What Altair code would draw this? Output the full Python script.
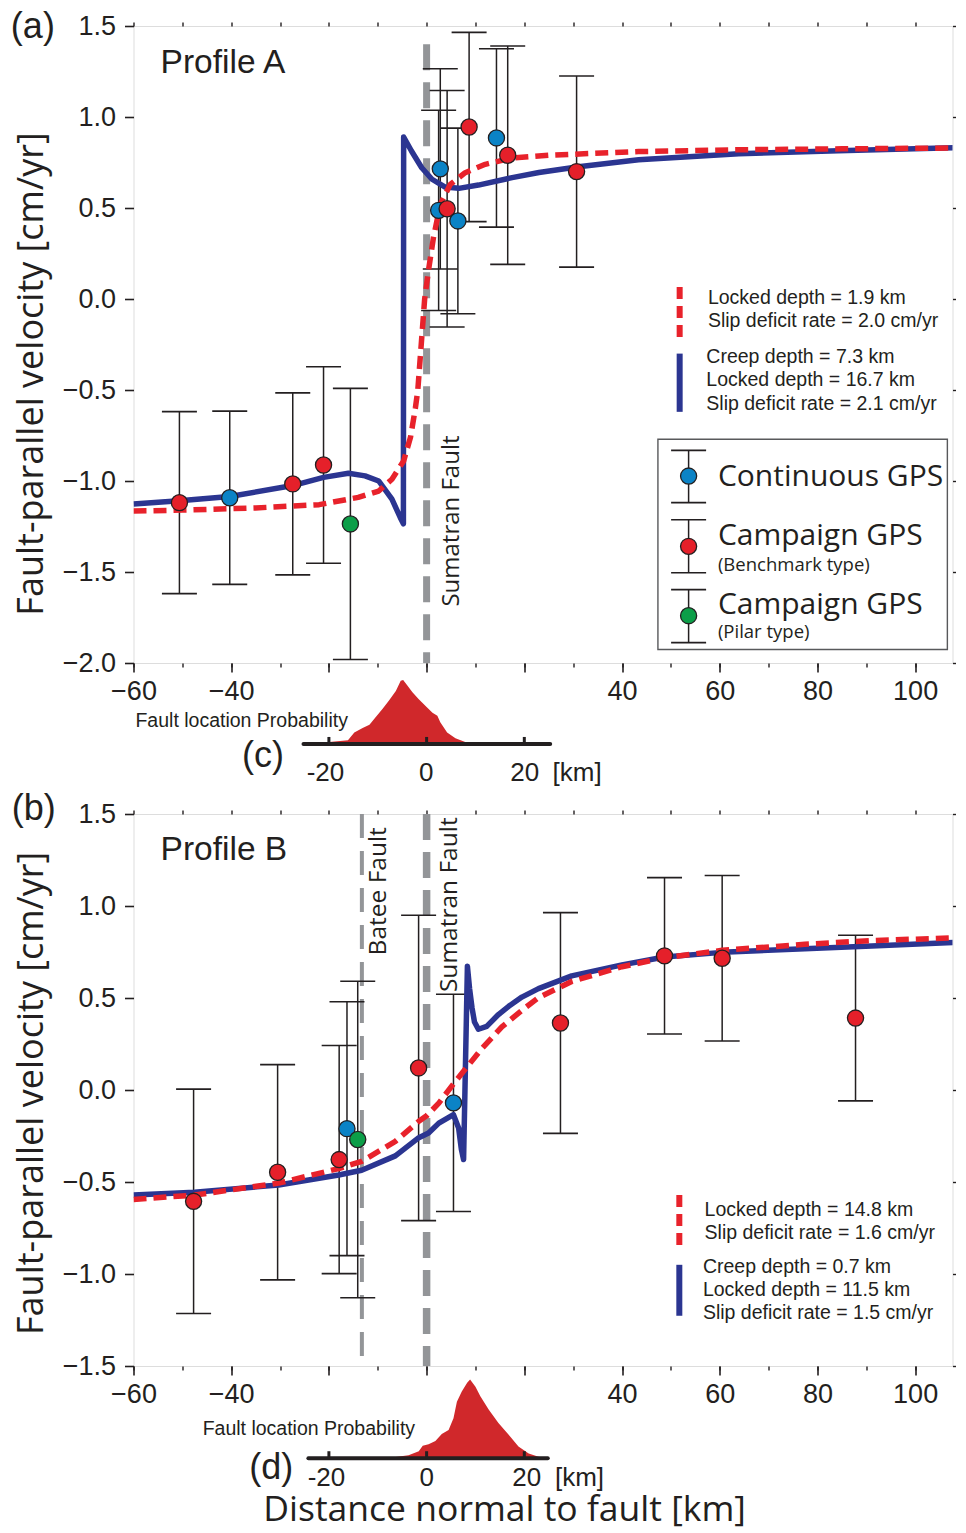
import altair as alt
import pandas as pd

# ---------------- observations (distance km, velocity cm/yr, 1-sigma, kind) ----------------
# kind: C = continuous GPS, B = campaign GPS (benchmark), P = campaign GPS (pilar)
a_dist = [-50.6, -40.3, -27.4, -21.1, -15.6, 2.8, 2.46, 4.2, 6.4, 8.7, 14.3, 16.6, 30.7]
a_vel = [-1.119, -1.092, -1.016, -0.912, -1.236, 0.715, 0.487, 0.496, 0.429, 0.945, 0.885, 0.79, 0.70]
a_err = [0.50, 0.476, 0.50, 0.54, 0.745, 0.55, 0.55, 0.65, 0.51, 0.52, 0.49, 0.60, 0.525]
a_kind = ["B", "C", "B", "B", "P", "C", "C", "B", "C", "B", "C", "B", "B"]

b_dist = [-47.7, -30.5, -17.9, -16.3, -14.1, -1.64, 5.5, 27.4, 48.7, 60.5, 87.8]
b_vel = [-0.605, -0.447, -0.378, -0.21, -0.269, 0.12, -0.07, 0.364, 0.729, 0.716, 0.391]
b_err = [0.61, 0.585, 0.62, 0.69, 0.86, 0.83, 0.59, 0.60, 0.425, 0.45, 0.45]
b_kind = ["B", "B", "B", "C", "P", "B", "C", "B", "B", "B", "B"]

# ---------------- model curves ----------------
a_lock_x = [-60, -50, -35, -22, -14, -9.8, -7.1, -4.7, -3.3, -2.3, -1.8, -1.1, -0.4, 0.4, 1.4,
            2.8, 4.85, 7.9, 12, 17.5, 25, 43.4, 63.9, 85, 109.3]
a_lock_v = [-1.165, -1.16, -1.148, -1.13, -1.09, -1.055, -0.99, -0.89, -0.76, -0.6, -0.5, -0.25,
            0.0, 0.16, 0.337, 0.52, 0.63, 0.694, 0.74, 0.775, 0.79, 0.81, 0.82, 0.825, 0.83]
a_creep_x = [-60, -50.6, -40.3, -27.4, -21.1, -16.0, -12.6, -9.8, -7.1, -5.4, -4.75, -4.7, -3.1,
             -1.0, 1.1, 3.8, 6.6, 10.6, 17.5, 23, 31.1, 43.4, 63.9, 84.3, 109.3]
a_creep_v = [-1.126, -1.108, -1.085, -1.025, -0.98, -0.957, -0.972, -1.0, -1.1, -1.2, -1.235, 0.89,
             0.813, 0.721, 0.658, 0.615, 0.608, 0.626, 0.667, 0.695, 0.727, 0.765, 0.798, 0.814, 0.832]

b_lock_x = [-60, -47.5, -30.3, -18, -13.3, -6.4, -1.6, 0, 2.5, 5.9, 8.6, 11.3, 15.4, 19.5, 22.9,
            29.7, 40, 48.7, 60.5, 77.4, 91.1, 109.3]
b_lock_v = [-0.595, -0.571, -0.506, -0.427, -0.388, -0.279, -0.17, -0.14, -0.071, 0.047, 0.136,
            0.225, 0.343, 0.433, 0.502, 0.59, 0.67, 0.719, 0.759, 0.792, 0.812, 0.828]
b_creep_x = [-60, -47.5, -30.3, -18, -13.3, -6.4, -1.6, 0.4, 2.5, 5.5, 6.55, 7.1, 7.57, 8.35, 8.8,
             9.3, 9.8, 10.6, 12.3, 14.7, 16.8, 19.5, 22.9, 29.7, 40, 48.7, 60.5, 77.4, 91.1, 109.3]
b_creep_v = [-0.571, -0.556, -0.516, -0.462, -0.436, -0.358, -0.259, -0.234, -0.18, -0.134, -0.206,
             -0.32, -0.378, 0.672, 0.55, 0.446, 0.37, 0.33, 0.346, 0.41, 0.455, 0.505, 0.551, 0.62,
             0.68, 0.723, 0.748, 0.768, 0.783, 0.803]

# ---------------- fault location probability (relative) ----------------
c_x = [-25.2, -19.9, -16.1, -14.8, -13.1, -11.7, -10.4, -9.0, -7.7, -6.3, -5.3, -4.8, -3.9, -2.9,
       -1.6, 0.1, 1.2, 2.2, 2.8, 4.2, 5.9, 7.9, 10.0, 25.3]
c_p = [0, 0.03, 0.06, 0.18, 0.25, 0.30, 0.42, 0.55, 0.68, 0.83, 0.99, 1.0, 0.91, 0.81, 0.70, 0.57,
       0.49, 0.44, 0.34, 0.18, 0.09, 0.03, 0.01, 0]
d_x = [-24.2, -7.1, -3.7, -1.6, -0.8, 0.4, 1.8, 3.1, 4.5, 5.5, 6.2, 7.2, 8.3, 8.9, 10.0, 11.0, 12.7,
       14.7, 16.8, 18.8, 20.9, 22.9, 24.6]
d_p = [0, 0.01, 0.04, 0.09, 0.16, 0.18, 0.22, 0.31, 0.36, 0.51, 0.72, 0.85, 0.96, 1.0, 0.91, 0.79,
       0.62, 0.45, 0.30, 0.15, 0.06, 0.02, 0]

# fault positions
a_faults = [0.0]
b_batee = [-13.25]
b_sumatran = [0.0]

# ---------------- styling ----------------
INK = "#231f20"
HELV = "Liberation Sans"
MYRIAD = "Open Sans"
BLUE_PT = "#0b83c6"
GREEN_PT = "#0c9e48"
RED_A = "#e5202a"
RED_B = "#e0194c"
MODEL_RED = "#e8222b"
MODEL_BLUE = "#2b3591"
GRAY = "#939598"
HIST_RED = "#d0282b"

XS = alt.Scale(domain=[-60, 107.65], nice=False, zero=False)


def X(field="x", axis=None):
    return alt.X(f"{field}:Q", scale=XS, axis=axis, title=None)


def Y(field, scale, axis=None):
    return alt.Y(f"{field}:Q", scale=scale, axis=axis, title=None)


AX_BOTTOM = alt.Axis(orient="bottom", values=list(range(-60, 101, 20)), tickSize=9, tickWidth=1.6,
                     tickColor=INK, labelFont=HELV, labelFontSize=27, labelColor=INK, labelPadding=6,
                     labelFlush=False, labelOverlap=False,
                     labelExpr="(datum.value > -40 && datum.value < 40) ? '' : datum.label",
                     domain=False, grid=False)
AX_BOTTOM_MINOR = alt.Axis(orient="bottom", values=list(range(-60, 110, 10)), tickSize=4,
                           tickWidth=1.4, tickColor=INK, labels=False, domain=False, grid=False)
AX_TOP = alt.Axis(orient="top", values=list(range(-60, 110, 10)), tickSize=4, tickWidth=1.4,
                  tickColor=INK, labels=False, domain=False, grid=False)


def ax_left(vals):
    return alt.Axis(orient="left", values=vals, format=".1f", tickSize=9, tickWidth=1.6,
                    tickColor=INK, labelFont=HELV, labelFontSize=27, labelColor=INK,
                    labelPadding=9, domain=False, grid=False)


def ax_right(vals):
    return alt.Axis(orient="right", values=vals, tickSize=3, tickWidth=1.4, tickColor=INK,
                    labels=False, domain=False, grid=False)


def texts(rows, ys, font, size, align="left", angle=0):
    df = pd.DataFrame(rows, columns=["t", "x", "y"])
    return alt.Chart(df).mark_text(font=font, fontSize=size, align=align, baseline="middle",
                                   angle=angle, color=INK).encode(x=X(), y=Y("y", ys), text="t:N")


def obs_layers(d, v, e, k, ys, red):
    df = pd.DataFrame({"x": d, "v": v, "e": e, "k": k})
    base = alt.Chart(df).transform_calculate(lo="datum.v - datum.e", hi="datum.v + datum.e")
    bars = base.mark_rule(color=INK, strokeWidth=1.5).encode(x=X(), y=Y("lo", ys), y2="hi:Q")
    cap_hi = base.mark_tick(orient="horizontal", size=35, thickness=1.6, color=INK, opacity=1).encode(
        x=X(), y=Y("hi", ys))
    cap_lo = base.mark_tick(orient="horizontal", size=35, thickness=1.6, color=INK, opacity=1).encode(
        x=X(), y=Y("lo", ys))
    dots = alt.Chart(df).mark_point(shape="circle", filled=True, size=260, opacity=1, stroke=INK,
                                    strokeWidth=1.3).encode(
        x=X(), y=Y("v", ys),
        fill=alt.Fill("k:N", scale=alt.Scale(domain=["C", "B", "P"], range=[BLUE_PT, red, GREEN_PT]),
                      legend=None))
    return [bars, cap_hi, cap_lo], dots


def curve(xs, vs, ys, color, dash, xaxis=None, yaxis=None):
    df = pd.DataFrame({"x": xs, "v": vs, "i": list(range(len(xs)))})
    kw = dict(color=color, strokeWidth=5.5, strokeCap="butt", strokeJoin="round", clip=True)
    if dash:
        kw["strokeDash"] = [13, 7]
    return alt.Chart(df).mark_line(**kw).encode(x=X(axis=xaxis), y=Y("v", ys, yaxis), order="i:Q")


def vline(xs, y0, y1, ys, color, width, dash=None, xaxis=None):
    df = pd.DataFrame({"x": xs, "y0": [y0] * len(xs), "y1": [y1] * len(xs)})
    kw = dict(color=color, strokeWidth=width, strokeCap="butt")
    if dash:
        kw["strokeDash"] = dash
    return alt.Chart(df).mark_rule(**kw).encode(x=X(axis=xaxis), y=Y("y0", ys), y2="y1:Q")


def hist_layers(hx, hp, hs, ax0, ax1, tick_h, lab_y, lab_x, prob_xy, tag, tag_xy):
    df = pd.DataFrame({"x": hx, "p": hp, "z": [0] * len(hx)})
    area = alt.Chart(df).mark_area(color=HIST_RED, interpolate="linear").encode(
        x=X(), y=Y("p", hs), y2="z:Q")
    line = alt.Chart(pd.DataFrame({"x0": [ax0], "x1": [ax1], "y": [0]})).mark_rule(
        color=INK, strokeWidth=4, strokeCap="round").encode(x=X("x0"), x2="x1:Q", y=Y("y", hs))
    ticks = vline([-20, 0, 20], 0, tick_h, hs, INK, 3)
    labs = texts([("-20", lab_x[0], lab_y), ("0", lab_x[1], lab_y), ("20", lab_x[2], lab_y)],
                 hs, HELV, 26, align="center")
    km = texts([("[km]", lab_x[3], lab_y)], hs, HELV, 26, align="center")
    prob = texts([("Fault location Probability", prob_xy[0], prob_xy[1])], hs, HELV, 19.5)
    tg = texts([(tag, tag_xy[0], tag_xy[1])], hs, HELV, 36, align="center")
    return alt.layer(area, line, ticks, labs, km, prob, tg)


# ================= Panel A =================
YA = alt.Scale(domain=[-2.0, 1.5], nice=False, zero=False)
ya_vals = [-2.0, -1.5, -1.0, -0.5, 0.0, 0.5, 1.0, 1.5]
a_err_layers, a_dots = obs_layers(a_dist, a_vel, a_err, a_kind, YA, RED_A)

leg_box = alt.Chart(pd.DataFrame({"x0": [47.35], "x1": [106.6], "y0": [-0.771], "y1": [-1.926]})).mark_rect(
    fill="white", stroke="#58595b", strokeWidth=1.4).encode(x=X("x0"), x2="x1:Q", y=Y("y0", YA), y2="y1:Q")
glyph_df = pd.DataFrame({"x": [53.63] * 3, "top": [-0.832, -1.213, -1.597], "bot": [-1.119, -1.504, -1.888],
                         "mid": [-0.973, -1.359, -1.74], "k": ["C", "B", "P"]})
g_rule = alt.Chart(glyph_df).mark_rule(color=INK, strokeWidth=1.5).encode(x=X(), y=Y("top", YA), y2="bot:Q")
g_top = alt.Chart(glyph_df).mark_tick(orient="horizontal", size=35, thickness=1.6, color=INK, opacity=1).encode(
    x=X(), y=Y("top", YA))
g_bot = alt.Chart(glyph_df).mark_tick(orient="horizontal", size=35, thickness=1.6, color=INK, opacity=1).encode(
    x=X(), y=Y("bot", YA))
g_dot = alt.Chart(glyph_df).mark_point(shape="circle", filled=True, size=260, opacity=1, stroke=INK,
                                       strokeWidth=1.3).encode(
    x=X(), y=Y("mid", YA),
    fill=alt.Fill("k:N", scale=alt.Scale(domain=["C", "B", "P"], range=[BLUE_PT, RED_A, GREEN_PT]), legend=None))

main_a = alt.layer(
    vline(a_faults, 1.4, -2.0, YA, GRAY, 7, [26, 12], xaxis=AX_TOP),
    *a_err_layers,
    curve(a_creep_x, a_creep_v, YA, MODEL_BLUE, False, xaxis=AX_BOTTOM_MINOR, yaxis=ax_right(ya_vals)),
    curve(a_lock_x, a_lock_v, YA, MODEL_RED, True, xaxis=AX_BOTTOM, yaxis=ax_left(ya_vals)),
    a_dots,
    vline([51.8], 0.066, -0.209, YA, MODEL_RED, 6, [12, 7]),
    vline([51.8], -0.30, -0.62, YA, MODEL_BLUE, 6),
    leg_box, g_rule, g_top, g_bot, g_dot,
    texts([("(a)", -80.6, 1.495)], YA, HELV, 36, align="center"),
    texts([("Fault-parallel velocity [cm/yr]", -80.8, -0.412)], YA, MYRIAD, 36, align="center", angle=270),
    texts([("Profile A", -54.45, 1.297)], YA, HELV, 33.5),
    texts([("Sumatran Fault", 5.12, -1.22)], YA, MYRIAD, 24, align="center", angle=270),
    texts([("Locked depth = 1.9 km", 57.58, 0.005), ("Slip deficit rate = 2.0 cm/yr", 57.58, -0.122)],
          YA, HELV, 19.5),
    texts([("Creep depth = 7.3 km", 57.26, -0.318), ("Locked depth = 16.7 km", 57.26, -0.445),
           ("Slip deficit rate = 2.1 cm/yr", 57.26, -0.576)], YA, HELV, 19.5),
    texts([("Continuous GPS", 59.63, -0.98), ("Campaign GPS", 59.63, -1.302), ("Campaign GPS", 59.63, -1.68)],
          YA, MYRIAD, 30),
    texts([("(Benchmark type)", 59.63, -1.46), ("(Pilar type)", 59.63, -1.832)], YA, MYRIAD, 18.5),
).resolve_axis(x="independent", y="independent")

HC = alt.Scale(domain=[0, 1], range=[718, 654], nice=False, zero=False)
hist_c = hist_layers(c_x, c_p, HC, -25.2, 25.3, 0.11, -0.45, [-20.7, -0.1, 20.1, 30.8],
                     (-59.6, 0.36), "(c)", (-33.5, -0.19))

panel_a = alt.layer(main_a, hist_c).resolve_scale(y="independent").properties(width=819, height=637)

# ================= Panel B =================
YB = alt.Scale(domain=[-1.5, 1.5], nice=False, zero=False)
yb_vals = [-1.5, -1.0, -0.5, 0.0, 0.5, 1.0, 1.5]
b_err_layers, b_dots = obs_layers(b_dist, b_vel, b_err, b_kind, YB, RED_B)

main_b = alt.layer(
    vline(b_sumatran, 1.5, -1.5, YB, GRAY, 7.5, [26, 12], xaxis=AX_TOP),
    vline(b_batee, 1.5, -1.5, YB, GRAY, 4, [24, 13]),
    *b_err_layers,
    curve(b_creep_x, b_creep_v, YB, MODEL_BLUE, False, xaxis=AX_BOTTOM_MINOR, yaxis=ax_right(yb_vals)),
    curve(b_lock_x, b_lock_v, YB, MODEL_RED, True, xaxis=AX_BOTTOM, yaxis=ax_left(yb_vals)),
    b_dots,
    vline([51.73], -0.57, -0.842, YB, MODEL_RED, 6, [12, 7]),
    vline([51.73], -0.95, -1.227, YB, MODEL_BLUE, 6),
    texts([("(b)", -80.4, 1.526)], YB, HELV, 36, align="center"),
    texts([("Fault-parallel velocity [cm/yr]", -80.8, -0.018)], YB, MYRIAD, 36, align="center", angle=270),
    texts([("Profile B", -54.45, 1.303)], YB, HELV, 33.5),
    texts([("Batee Fault", -9.83, 1.08)], YB, MYRIAD, 24.5, align="center", angle=270),
    texts([("Sumatran Fault", 4.7, 1.007)], YB, MYRIAD, 24.5, align="center", angle=270),
    texts([("Locked depth = 14.8 km", 56.9, -0.654), ("Slip deficit rate = 1.6 cm/yr", 56.9, -0.779)],
          YB, HELV, 19.5),
    texts([("Creep depth = 0.7 km", 56.56, -0.961), ("Locked depth = 11.5 km", 56.56, -1.085),
           ("Slip deficit rate = 1.5 cm/yr", 56.56, -1.214)], YB, HELV, 19.5),
    texts([("Distance normal to fault [km]", 15.97, -2.28)], YB, MYRIAD, 35.5, align="center"),
).resolve_axis(x="independent", y="independent")

HD = alt.Scale(domain=[0, 1], range=[644.3, 565.6], nice=False, zero=False)
hist_d = hist_layers(d_x, d_p, HD, -24.2, 24.8, 0.09, -0.25, [-20.5, 0.0, 20.5, 31.3],
                     (-45.85, 0.37), "(d)", (-31.8, -0.123))

panel_b = alt.layer(main_b, hist_d).resolve_scale(y="independent").properties(width=819, height=552)

chart = alt.vconcat(panel_a, panel_b, spacing=151, bounds="flush").properties(
    padding={"left": 1.5, "top": 0, "right": 0, "bottom": -2},
).configure_view(stroke=INK, strokeWidth=2.5).configure(background="white")

chart.save("out.html", embed_options={"renderer": "svg", "actions": False})
